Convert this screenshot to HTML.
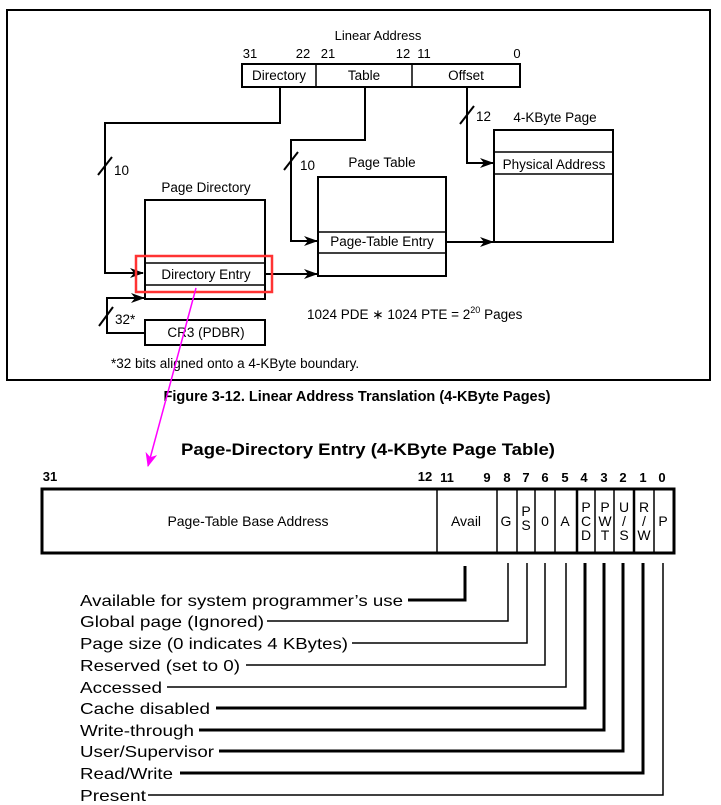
<!DOCTYPE html>
<html><head><meta charset="utf-8"><style>
html,body{margin:0;padding:0;background:#fff;}
svg{display:block;font-family:"Liberation Sans",Arial,sans-serif;}
</style></head><body>
<svg width="721" height="805" viewBox="0 0 721 805" xmlns="http://www.w3.org/2000/svg">
<defs>
<marker id="ah" markerWidth="14" markerHeight="10" refX="13" refY="5" orient="auto" markerUnits="userSpaceOnUse">
<path d="M0,0 L14,5 L0,10 L4,5 Z" fill="#000"/></marker>
<marker id="mh" markerWidth="14" markerHeight="12" refX="13" refY="6" orient="auto" markerUnits="userSpaceOnUse">
<path d="M0,0 L14,6 L0,12 L4,6 Z" fill="#f0f"/></marker>
</defs>
<rect x="7" y="10" width="703" height="370" fill="none" stroke="#000" stroke-width="2"/>
<g font-size="13" fill="#000">
<text x="378" y="40" text-anchor="middle">Linear Address</text>
<text x="250" y="58" text-anchor="middle">31</text>
<text x="303" y="58" text-anchor="middle">22</text>
<text x="328" y="58" text-anchor="middle">21</text>
<text x="403" y="58" text-anchor="middle">12</text>
<text x="424" y="58" text-anchor="middle">11</text>
<text x="517" y="58" text-anchor="middle">0</text>
</g>
<g fill="none" stroke="#000" stroke-width="2">
<rect x="242" y="64" width="278" height="23"/>
<line x1="316" y1="64" x2="316" y2="87" stroke-width="1.5"/><line x1="412" y1="64" x2="412" y2="87" stroke-width="1.5"/>
<polyline points="280,87 280,123 105,123 105,273 143,273" marker-end="url(#ah)"/>
<polyline points="365,87 365,140 291,140 291,241 317,241" marker-end="url(#ah)"/>
<polyline points="467,87 467,163 493,163" marker-end="url(#ah)"/>
<line x1="98" y1="175" x2="112" y2="157"/>
<line x1="284" y1="170" x2="298" y2="152"/>
<line x1="460" y1="124" x2="474" y2="106"/>
<line x1="99" y1="326" x2="113" y2="307"/>
<rect x="145" y="200" width="120" height="99"/>
<line x1="145" y1="263" x2="265" y2="263" stroke-width="1.5"/><line x1="145" y1="285" x2="265" y2="285" stroke-width="1.5"/>
<line x1="265" y1="274" x2="317" y2="274" marker-end="url(#ah)"/>
<rect x="318" y="177" width="128" height="99"/>
<line x1="318" y1="232" x2="446" y2="232" stroke-width="1.5"/><line x1="318" y1="253" x2="446" y2="253" stroke-width="1.5"/>
<line x1="446" y1="242" x2="493" y2="242" marker-end="url(#ah)"/>
<rect x="494" y="130" width="119" height="112"/>
<line x1="494" y1="152" x2="613" y2="152" stroke-width="1.5"/><line x1="494" y1="174" x2="613" y2="174" stroke-width="1.5"/>
<rect x="145" y="320" width="120" height="25"/>
<polyline points="145,333 107,333 107,298 144,298" marker-end="url(#ah)"/>
</g>
<g font-size="13.5" fill="#000" text-anchor="middle">
<text x="279" y="80">Directory</text><text x="364" y="80">Table</text><text x="466" y="80">Offset</text>
<text x="206" y="192">Page Directory</text>
<text x="206" y="279">Directory Entry</text>
<text x="382" y="167">Page Table</text>
<text x="382" y="246">Page-Table Entry</text>
<text x="555" y="122">4-KByte Page</text>
<text x="554" y="169">Physical Address</text>
<text x="206" y="337">CR3 (PDBR)</text>
<text x="357" y="401" font-weight="bold" font-size="14.5">Figure 3-12.  Linear Address Translation (4-KByte Pages)</text>
</g>
<g font-size="13.5" fill="#000">
<text x="114" y="175">10</text><text x="300" y="170">10</text><text x="476" y="121">12</text>
<text x="115" y="324">32*</text>
<text x="307" y="319">1024 PDE ∗ 1024 PTE = 2<tspan font-size="9" dy="-6">20</tspan><tspan dy="6"> Pages</tspan></text>
<text x="111" y="368">*32 bits aligned onto a 4-KByte boundary.</text>
</g>
<rect x="136" y="256" width="136" height="36" fill="none" stroke="#f33" stroke-width="2.5"/>
<line x1="196" y1="288" x2="148" y2="466" stroke="#f0f" stroke-width="1.5" marker-end="url(#mh)"/>

<text x="368" y="455" font-size="17" font-weight="bold" text-anchor="middle" textLength="374" lengthAdjust="spacingAndGlyphs">Page-Directory Entry (4-KByte Page Table)</text>
<g font-size="13" font-weight="bold" text-anchor="middle">
<text x="50" y="481">31</text><text x="425" y="481">12</text><text x="447" y="482">11</text>
<text x="487" y="482">9</text><text x="507" y="482">8</text><text x="526" y="482">7</text><text x="545" y="482">6</text>
<text x="565" y="482">5</text><text x="584" y="482">4</text><text x="604" y="482">3</text><text x="623" y="482">2</text>
<text x="643" y="482">1</text><text x="662" y="482">0</text>
</g>
<g fill="none" stroke="#000">
<rect x="42" y="489" width="632" height="64" stroke-width="3"/>
<g stroke-width="1.5">
<line x1="437" y1="489" x2="437" y2="553"/><line x1="497" y1="489" x2="497" y2="553"/>
<line x1="517" y1="489" x2="517" y2="553"/><line x1="535" y1="489" x2="535" y2="553"/>
<line x1="555" y1="489" x2="555" y2="553"/><line x1="595" y1="489" x2="595" y2="553"/>
<line x1="614" y1="489" x2="614" y2="553"/><line x1="654" y1="489" x2="654" y2="553"/>
</g>
<line x1="577" y1="489" x2="577" y2="553" stroke-width="2.5"/>
<line x1="634" y1="489" x2="634" y2="553" stroke-width="2.5"/>
<polyline points="408,600 465,600 465,566" stroke-width="3"/>
<polyline points="267,621 508,621 508,563" stroke-width="1.5"/>
<polyline points="352,643 527,643 527,563" stroke-width="1.5"/>
<polyline points="246,665 545,665 545,563" stroke-width="1.5"/>
<polyline points="167,687 566,687 566,563" stroke-width="1.5"/>
<polyline points="216,708 585,708 585,563" stroke-width="3"/>
<polyline points="199,730 604,730 604,563" stroke-width="3"/>
<polyline points="219,751 623,751 623,563" stroke-width="3"/>
<polyline points="180,773 643,773 643,563" stroke-width="3"/>
<polyline points="148,795 663,795 663,563" stroke-width="1.5"/>
</g>
<g font-size="14" text-anchor="middle">
<text x="248" y="526">Page-Table Base Address</text>
<text x="466" y="526">Avail</text>
<text x="506" y="526">G</text>
<text x="526" y="516">P</text><text x="526" y="530">S</text>
<text x="545" y="526">0</text>
<text x="565" y="526">A</text>
<text x="586" y="512">P</text><text x="586" y="526">C</text><text x="586" y="540">D</text>
<text x="605" y="512">P</text><text x="605" y="526">W</text><text x="605" y="540">T</text>
<text x="624" y="512">U</text><text x="624" y="526">/</text><text x="624" y="540">S</text>
<text x="644" y="512">R</text><text x="644" y="526">/</text><text x="644" y="540">W</text>
<text x="663" y="526">P</text>
</g>
<g font-size="16">
<text x="80" y="606" textLength="323" lengthAdjust="spacingAndGlyphs">Available for system programmer’s use</text>
<text x="80" y="627" textLength="184" lengthAdjust="spacingAndGlyphs">Global page (Ignored)</text>
<text x="80" y="649" textLength="268" lengthAdjust="spacingAndGlyphs">Page size (0 indicates 4 KBytes)</text>
<text x="80" y="671" textLength="160" lengthAdjust="spacingAndGlyphs">Reserved (set to 0)</text>
<text x="80" y="693" textLength="82" lengthAdjust="spacingAndGlyphs">Accessed</text>
<text x="80" y="714" textLength="130" lengthAdjust="spacingAndGlyphs">Cache disabled</text>
<text x="80" y="736" textLength="114" lengthAdjust="spacingAndGlyphs">Write-through</text>
<text x="80" y="757" textLength="134" lengthAdjust="spacingAndGlyphs">User/Supervisor</text>
<text x="80" y="779" textLength="93" lengthAdjust="spacingAndGlyphs">Read/Write</text>
<text x="80" y="801" textLength="66" lengthAdjust="spacingAndGlyphs">Present</text>
</g>
</svg>
</body></html>
